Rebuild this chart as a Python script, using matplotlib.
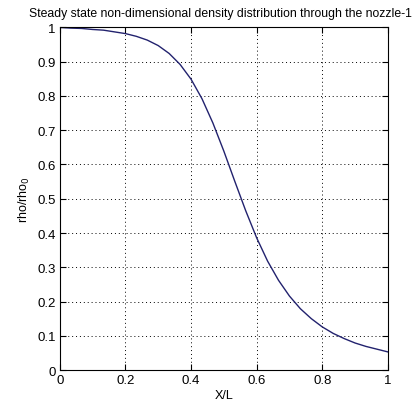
import numpy as np
import matplotlib
matplotlib.use('Agg')
import matplotlib.pyplot as plt
from matplotlib.ticker import FixedLocator, FuncFormatter

# steady state density along the nozzle
x_over_L = [i / 30.0 for i in range(31)]
rho = [1.000, 0.998, 0.997, 0.994, 0.992, 0.987, 0.982, 0.974, 0.963, 0.947,
       0.924, 0.892, 0.849, 0.792, 0.721, 0.639, 0.551, 0.465, 0.386, 0.318,
       0.262, 0.216, 0.179, 0.150, 0.126, 0.107, 0.092, 0.079, 0.069, 0.061,
       0.053]

xticks = [0, 0.2, 0.4, 0.6, 0.8, 1]
yticks = [0, 0.1, 0.2, 0.3, 0.4, 0.5, 0.6, 0.7, 0.8, 0.9, 1]

plt.rcParams['font.family'] = ['Liberation Sans', 'DejaVu Sans']
plt.rcParams['font.size'] = 9

fig = plt.figure(figsize=(4.18, 4.06), dpi=100)
ax = fig.add_axes([0.143, 0.086, 0.785, 0.844])

ax.plot(x_over_L, rho, color='#22226e', lw=1.0)

ax.set_xlim(0, 1)
ax.set_ylim(0, 1)
ax.xaxis.set_major_locator(FixedLocator(xticks))
ax.yaxis.set_major_locator(FixedLocator(yticks))
fmt = FuncFormatter(lambda v, p: ('%g' % v))
ax.xaxis.set_major_formatter(fmt)
ax.yaxis.set_major_formatter(fmt)
ax.tick_params(direction='in', length=4, width=0.8, top=True, right=True,
               labelsize=9.5, pad=3)
ax.grid(True, color='black', linestyle=(0, (1, 3)), linewidth=0.7)
for s in ax.spines.values():
    s.set_linewidth(0.8)

fig.text(0.527, 0.965, 'Steady state non-dimensional density distribution through the nozzle-1',
         fontsize=8.85, ha='center', va='center')
ax.set_xlabel('X/L', labelpad=2)
ax.set_ylabel('rho/rho$_0$', labelpad=4)

fig.savefig('out.png', dpi=100)
